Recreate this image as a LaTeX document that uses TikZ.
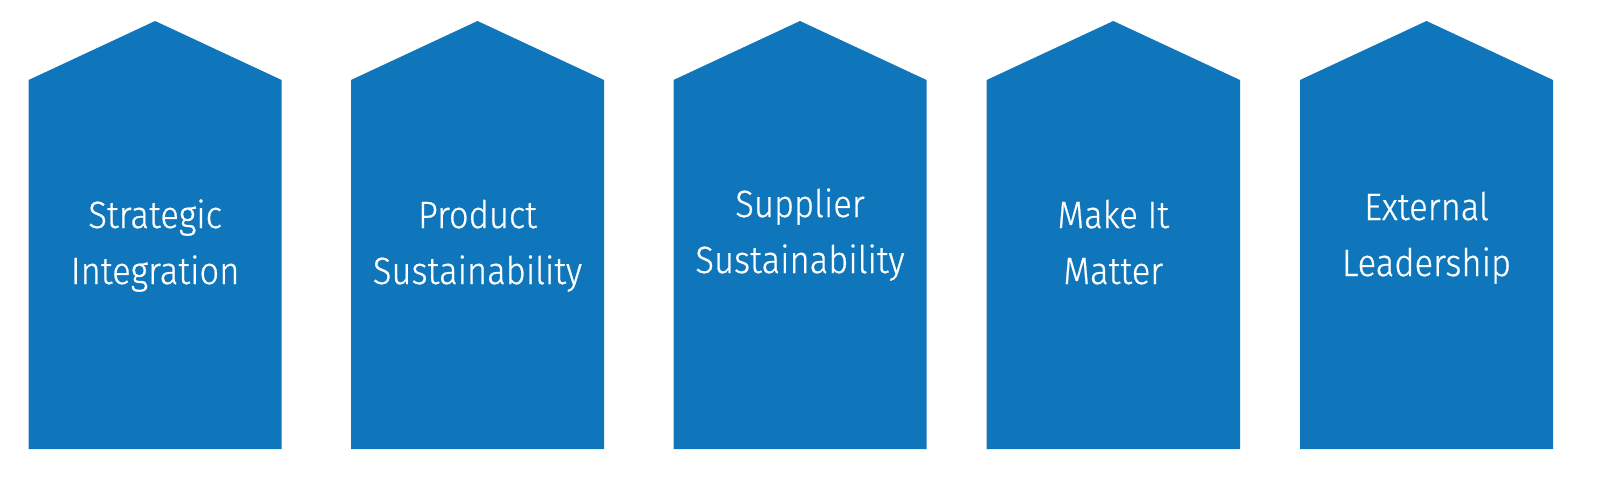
\documentclass[tikz,border=0pt]{standalone}
\usepackage{fontspec}
\setmainfont{Fira Sans}[UprightFont=* Light, UprightFeatures={FakeBold=0.6}, FakeStretch=0.91]
\definecolor{houseblue}{HTML}{0F76BC}

\begin{document}
\begin{tikzpicture}[x=0.5pt, y=-0.5pt, house/.style={fill=houseblue}, every node/.style={align=center, text=white, font=\fontsize{19}{28}\selectfont}]
\useasboundingbox (0,0) rectangle (1600,477);
\fill[house] (28.6,449) -- (28.6,80) -- (155.1,21) -- (281.6,80) -- (281.6,449) -- cycle;
\fill[house] (351,449) -- (351,80) -- (477.5,21) -- (604,80) -- (604,449) -- cycle;
\fill[house] (673.5,449) -- (673.5,80) -- (800,21) -- (926.5,80) -- (926.5,449) -- cycle;
\fill[house] (986.7,449) -- (986.7,80) -- (1113.3,21) -- (1240,80) -- (1240,449) -- cycle;
\fill[house] (1300,449) -- (1300,80) -- (1426.5,21) -- (1553,80) -- (1553,449) -- cycle;
\node (SI) [anchor=base] at (155.1,284) {Strategic\\Integration};
\node (PS) [anchor=base] at (477.5,284) {Product\\Sustainability};
\node (SS) [anchor=base] at (800,273) {Supplier\\Sustainability};
\node (MM) [anchor=base] at (1113.3,284) {Make It\\Matter};
\node (EL) [anchor=base] at (1426.5,276) {External\\Leadership};
\end{tikzpicture}
\end{document}
